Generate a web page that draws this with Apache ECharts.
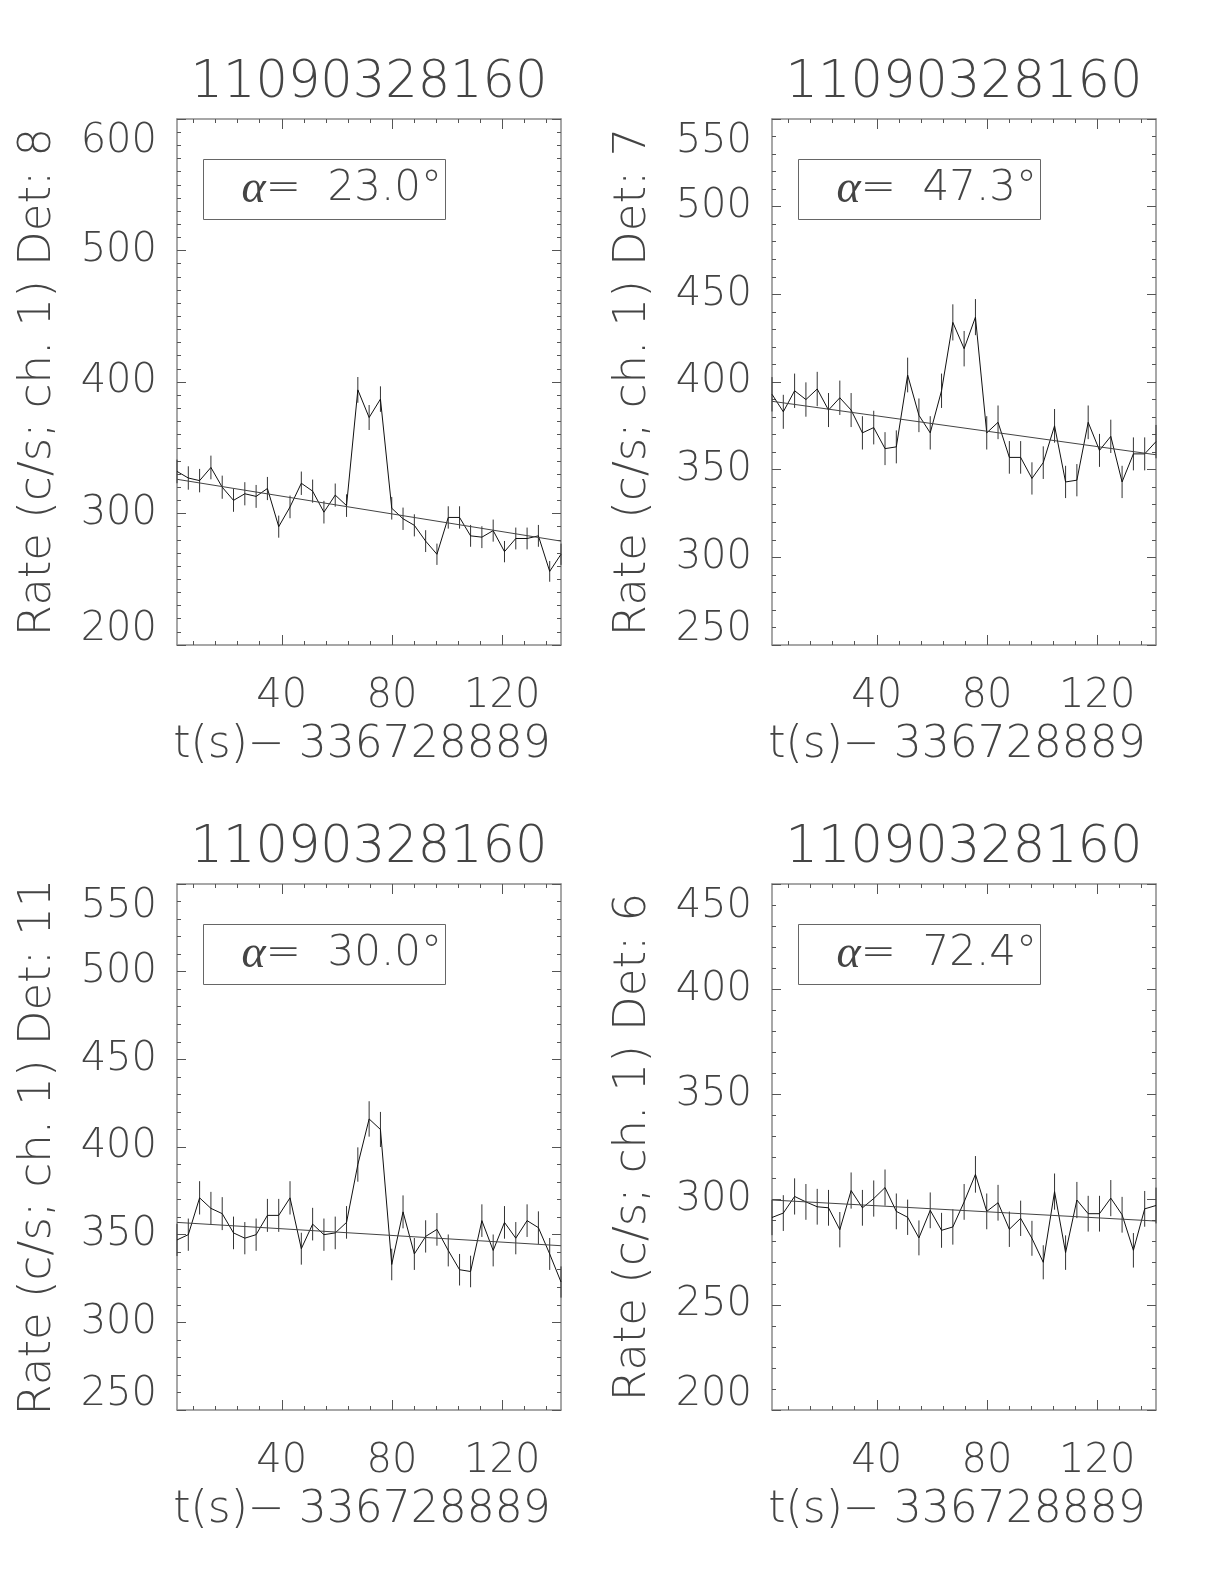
<!DOCTYPE html>
<html>
<head>
<meta charset="utf-8">
<script src="https://cdn.jsdelivr.net/npm/echarts@6/dist/echarts.min.js"></script>
<style>
html, body { margin: 0; padding: 0; background: #fff; }
#chart { width: 1224px; height: 1584px; }
</style>
</head>
<body>
<div id="chart"></div>
<script>
// time bins, seconds after 336728889
var times = [2.0, 6.1, 10.2, 14.3, 18.4, 22.5, 26.6, 30.7, 34.8, 38.9, 43.0, 47.1, 51.2, 55.3, 59.4, 63.5, 67.6, 71.7,
  75.8, 79.9, 84.0, 88.1, 92.2, 96.3, 100.4, 104.5, 108.5, 112.6, 116.7, 120.8, 124.9, 129.0, 133.1, 137.2, 141.3];
var xMajorTicks = [40, 80, 120];
var xMinorTicks = [8, 16, 24, 32, 48, 56, 64, 72, 88, 96, 104, 112, 128, 136];

// Det 8
var rateDet8 = [332, 327, 325, 335, 320, 310, 315, 313, 319, 290, 305, 323, 317, 301, 314, 306, 394, 373,
  387, 304, 296, 291, 279, 269, 297, 297, 283, 282, 287, 271, 281, 281, 283, 256, 269];
var errDet8 = [9.0, 8.9, 8.9, 9.0, 8.8, 8.7, 8.8, 8.7, 8.8, 8.4, 8.6, 8.9, 8.8, 8.6, 8.8, 8.6, 9.8, 9.5,
  9.7, 8.6, 8.5, 8.4, 8.3, 8.1, 8.5, 8.5, 8.3, 8.3, 8.4, 8.1, 8.3, 8.3, 8.3, 7.9, 8.1];
var fitDet8 = [326, 279];

// Det 7
var rateDet7 = [393, 383, 395, 390, 396, 384, 391, 384, 371, 374, 362, 363, 404, 381, 371, 395, 434, 419,
  437, 371, 377, 357, 357, 345, 354, 375, 343, 344, 377, 361, 369, 343, 359, 359, 366];
var errDet7 = [9.8, 9.7, 9.8, 9.8, 9.8, 9.7, 9.8, 9.7, 9.5, 9.6, 9.4, 9.4, 9.9, 9.6, 9.5, 9.8, 10.3, 10.1,
  10.3, 9.5, 9.6, 9.3, 9.3, 9.2, 9.3, 9.6, 9.2, 9.2, 9.6, 9.4, 9.5, 9.2, 9.4, 9.4, 9.5];
var fitDet7 = [389, 358.5];

// Det 11
var rateDet11 = [347, 350, 371, 365, 362, 351, 348, 350, 361, 361, 371, 342, 356, 350, 351, 357, 390, 416,
  410, 333, 363, 339, 349, 353, 341, 330, 329, 358, 341, 357, 348, 358, 354, 339, 323];
var errDet11 = [9.2, 9.2, 9.5, 9.4, 9.4, 9.3, 9.2, 9.2, 9.4, 9.4, 9.5, 9.1, 9.3, 9.2, 9.3, 9.3, 9.8, 10.1,
  10.0, 9.0, 9.4, 9.1, 9.2, 9.3, 9.1, 9.0, 9.0, 9.3, 9.1, 9.3, 9.2, 9.3, 9.3, 9.1, 8.9];
var fitDet11 = [357, 343.7];

// Det 6
var rateDet6 = [291.5, 293.6, 301.5, 298.9, 296.6, 296.1, 285.7, 304.3, 296.1, 300.5, 305.7, 294.4, 291.6, 281.8,
  294.9, 285.4, 287, 298.9, 312, 294.4, 298.5, 285.9, 291.1, 281.6, 270.2, 303.8, 274.8, 299.8, 293.3, 293.3,
  300.7, 292.8, 275.9, 295.6, 297.2];
var errDet6 = [8.4, 8.5, 8.6, 8.5, 8.5, 8.5, 8.4, 8.6, 8.5, 8.6, 8.6, 8.5, 8.4, 8.3, 8.5, 8.3, 8.4, 8.5,
  8.7, 8.5, 8.5, 8.4, 8.4, 8.3, 8.1, 8.6, 8.2, 8.6, 8.5, 8.5, 8.6, 8.5, 8.2, 8.5, 8.5];
var fitDet6 = [299.8, 289.8];

var plotTitle = '11090328160';
var xName = 't(s)\u2212 336728889';

var FONT = 'DejaVu Sans';
var TXT = '#444';
var FRAME = '#8a8a8a';
var W = 384, H = 526;

var panels = [
  { left: 177, top: 119, det: '8', alpha: '23.0', rates: rateDet8, errs: errDet8, fit: fitDet8, yMin: 200, yMax: 600, yStep: 100, yMinor: 10 },
  { left: 772, top: 119, det: '7', alpha: '47.3', rates: rateDet7, errs: errDet7, fit: fitDet7, yMin: 250, yMax: 550, yStep: 50, yMinor: 5 },
  { left: 177, top: 884, det: '11', alpha: '30.0', rates: rateDet11, errs: errDet11, fit: fitDet11, yMin: 250, yMax: 550, yStep: 50, yMinor: 5 },
  { left: 772, top: 884, det: '6', alpha: '72.4', rates: rateDet6, errs: errDet6, fit: fitDet6, yMin: 200, yMax: 450, yStep: 50, yMinor: 5 }
];

var option = {
  animation: false,
  backgroundColor: '#fff',
  title: [], grid: [], xAxis: [], yAxis: [], series: [], graphic: []
};

var tMin = times[0], tMax = times[times.length - 1];

panels.forEach(function (p, k) {
  option.grid.push({ left: p.left, top: p.top, width: W, height: H, containLabel: false });

  option.title.push({
    text: plotTitle, left: p.left + W / 2, top: p.top - 61, textAlign: 'center', padding: 0,
    textStyle: { fontFamily: FONT, fontWeight: 200, fontSize: 51, color: TXT }
  });

  // x axes: bottom major, bottom minor, top major, top minor
  ['bottom', 'top'].forEach(function (pos) {
    option.xAxis.push({
      type: 'value', gridIndex: k, position: pos, min: tMin, max: tMax,
      name: pos === 'bottom' ? xName : '', nameLocation: 'middle', nameGap: 79,
      nameTextStyle: { fontFamily: FONT, fontWeight: 200, fontSize: 44, color: TXT, padding: [0, 14, 0, 0] },
      axisLine: { show: true, lineStyle: { color: FRAME, width: 1.5 } },
      axisTick: { show: true, inside: true, length: 10, customValues: xMajorTicks, lineStyle: { color: '#555' } },
      axisLabel: { show: pos === 'bottom', customValues: xMajorTicks, margin: 32, fontFamily: FONT, fontWeight: 200, fontSize: 40, color: TXT },
      splitLine: { show: false }
    });
    option.xAxis.push({
      type: 'value', gridIndex: k, position: pos, min: tMin, max: tMax,
      axisLine: { show: false },
      axisTick: { show: true, inside: true, length: 4, customValues: xMinorTicks, lineStyle: { color: '#555' } },
      axisLabel: { show: false },
      splitLine: { show: false }
    });
  });

  ['left', 'right'].forEach(function (pos) {
    option.yAxis.push({
      type: 'value', gridIndex: k, position: pos, min: p.yMin, max: p.yMax, interval: p.yStep,
      name: pos === 'left' ? 'Rate (c/s; ch. 1) Det: ' + p.det : '',
      nameLocation: 'middle', nameGap: 116, nameRotate: 90,
      nameTextStyle: { fontFamily: FONT, fontWeight: 200, fontSize: 45, color: TXT },
      axisLine: { show: true, lineStyle: { color: FRAME, width: 1.5 } },
      axisTick: { show: true, inside: true, length: 9, lineStyle: { color: '#555' } },
      minorTick: { show: true, splitNumber: p.yMinor, length: 4, lineStyle: { color: '#555' } },
      axisLabel: {
        show: pos === 'left', margin: 20, fontFamily: FONT, fontWeight: 200, fontSize: 40, color: TXT,
        lineHeight: 30, padding: [8, 0, 0, 0],
        verticalAlignMaxLabel: 'top', verticalAlignMinLabel: 'bottom'
      },
      splitLine: { show: false }
    });
  });

  var xi = 4 * k, yi = 2 * k;

  option.series.push({
    type: 'line', xAxisIndex: xi, yAxisIndex: yi, showSymbol: false, symbol: 'none',
    lineStyle: { color: '#111', width: 1 },
    data: times.map(function (t, i) { return [t, p.rates[i]]; })
  });

  option.series.push({
    type: 'custom', xAxisIndex: xi, yAxisIndex: yi,
    encode: { x: 0, y: [1, 2] },
    data: times.map(function (t, i) { return [t, p.rates[i] - p.errs[i], p.rates[i] + p.errs[i]]; }),
    renderItem: function (params, api) {
      var a = api.coord([api.value(0), api.value(1)]);
      var b = api.coord([api.value(0), api.value(2)]);
      return { type: 'line', shape: { x1: a[0], y1: a[1], x2: b[0], y2: b[1] }, style: { stroke: '#333', lineWidth: 1 } };
    }
  });

  option.series.push({
    type: 'line', xAxisIndex: xi, yAxisIndex: yi, showSymbol: false, symbol: 'none',
    lineStyle: { color: '#444', width: 1 },
    data: [[tMin, p.fit[0]], [tMax, p.fit[1]]]
  });

  // angle label box
  option.graphic.push({
    type: 'group', left: p.left + 24, top: p.top + 38,
    children: [
      { type: 'rect', shape: { x: 0, y: 0, width: 242, height: 60 }, style: { fill: 'none', stroke: '#666', lineWidth: 1 } },
      {
        type: 'text', x: 38, y: 30,
        style: {
          text: '{a|\u03b1}=  ' + p.alpha + '\u00b0',
          verticalAlign: 'middle', fontFamily: FONT, fontWeight: 200, fontSize: 42, fill: TXT,
          rich: { a: { fontFamily: 'Liberation Serif', fontStyle: 'italic', fontSize: 46, color: TXT } }
        }
      }
    ]
  });
});

var chart = echarts.init(document.getElementById('chart'), null, { renderer: 'canvas' });
chart.setOption(option);
</script>
</body>
</html>
